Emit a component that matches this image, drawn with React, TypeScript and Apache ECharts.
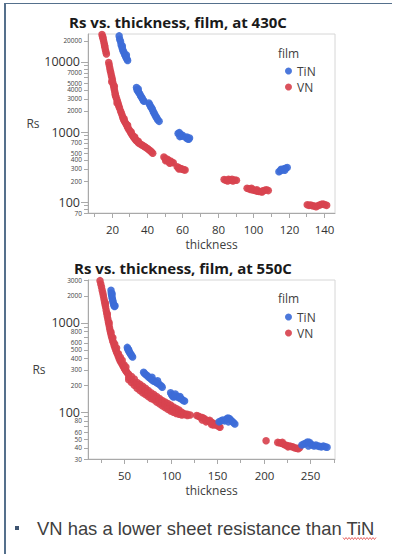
import React, { useEffect, useRef } from "react";
import * as echarts from "echarts";

// ---------- data (thickness, Rs) ----------
const tin430: number[][] = [
  [24.2, 23500], [24.5, 21000], [25.0, 19500], [25.3, 17500], [25.8, 16000], [26.2, 15000], [26.5, 14200],
  [27.0, 13500], [27.3, 12800], [27.8, 12000], [28.2, 11500], [28.6, 11000], [29.0, 10500], [28.3, 12500], [26.0, 16800],
  [34.0, 4300], [34.3, 4000], [34.8, 3850], [35.2, 3700], [35.8, 3500], [36.3, 3300], [36.8, 3150], [37.3, 3000],
  [37.8, 2850], [38.2, 2750], [35.0, 4100],
  [41.0, 2600], [41.5, 2450], [42.0, 2300], [42.6, 2200], [43.0, 2100], [43.5, 1950], [44.0, 1850], [44.5, 1750],
  [45.0, 1650], [45.5, 1580], [46.0, 1500], [46.8, 1420],
  [57.5, 950], [58.2, 980], [59.0, 920], [59.5, 870], [58.5, 860], [60.0, 900], [62.0, 830], [62.8, 800],
  [63.5, 790], [62.5, 850], [64.0, 820],
  [114.5, 272], [115.3, 280], [116.0, 288], [116.8, 292], [117.5, 300], [118.3, 305], [119.2, 312], [115.8, 295], [117.8, 286],
];

const vn430: number[][] = [
  [14.5, 24500], [14.8, 23000], [15.2, 21000], [15.5, 19500], [15.8, 18000], [16.1, 16500], [16.4, 15000],
  [16.7, 14000], [17.0, 13000], [15.0, 22500], [16.0, 17000],
  [18.3, 9800], [18.6, 9000], [18.9, 8200], [19.2, 7500], [19.5, 7000], [19.8, 6400], [20.1, 6000], [20.4, 5500],
  [20.7, 5000], [21.0, 4600], [21.3, 4200], [21.6, 3900], [21.9, 3600], [22.2, 3300], [22.5, 3100], [22.9, 2900],
  [23.3, 2700], [23.7, 2500], [24.0, 2350], [24.4, 2200], [20.0, 5200], [21.5, 4500], [22.0, 3400], [23.0, 2600],
  [25.0, 2000], [25.5, 1850], [26.0, 1700], [26.3, 1600], [26.8, 1500], [27.2, 1420], [27.8, 1350], [28.3, 1280],
  [28.8, 1200], [29.3, 1130], [29.8, 1080], [30.3, 1030], [30.8, 980], [31.3, 930], [31.8, 890], [32.3, 850],
  [32.8, 820], [33.3, 790], [33.8, 760], [34.5, 730], [35.2, 700], [36.0, 680], [36.8, 660], [37.6, 640],
  [38.5, 620], [39.3, 600], [40.2, 580], [41.0, 560], [41.8, 540], [42.5, 520], [43.2, 500],
  [27.0, 1550], [29.0, 1250], [31.0, 1000], [33.0, 850], [35.0, 740],
  [49.5, 440], [50.2, 420], [51.0, 400], [51.5, 410], [52.0, 390], [52.5, 375], [53.2, 385], [54.0, 370],
  [54.8, 365], [50.5, 390], [52.8, 360],
  [57.0, 320], [57.8, 310], [58.5, 305], [59.3, 300], [60.0, 295], [60.8, 290], [61.5, 288], [58.0, 298],
  [83.5, 210], [84.5, 205], [85.5, 200], [86.5, 208], [87.5, 205], [88.5, 200], [89.5, 207], [90.5, 205], [86.0, 212], [88.0, 212],
  [96.5, 158], [97.5, 155], [98.5, 152], [99.5, 150], [100.5, 148], [101.5, 145], [102.5, 143], [103.5, 142],
  [104.5, 142], [105.5, 145], [106.5, 148], [107.5, 150], [108.5, 146], [99.0, 158], [102.0, 150], [105.0, 140],
  [130.5, 92], [131.5, 90], [132.5, 91], [133.5, 89], [134.5, 88], [135.5, 86], [136.5, 89], [137.5, 91],
  [138.5, 93], [139.5, 94], [140.5, 92], [141.5, 90],
];

const tin550: number[][] = [
  [36.0, 2300], [36.3, 2150], [36.6, 2050], [37.0, 1950], [37.4, 1850], [37.8, 1780], [38.2, 1700], [38.7, 1620],
  [39.2, 1560], [39.8, 1520], [40.3, 1550], [37.2, 2100],
  [53.5, 530], [54.0, 510], [54.5, 495], [55.2, 480], [56.0, 465], [56.8, 450], [57.5, 440], [58.3, 425], [59.2, 415], [55.0, 500],
  [71.0, 280], [72.0, 270], [73.5, 262], [75.0, 255], [76.5, 245], [78.0, 240], [79.5, 232], [81.0, 225],
  [82.5, 222], [84.0, 218], [85.5, 212], [87.0, 208], [88.5, 202], [90.0, 196], [91.0, 190], [80.0, 245], [86.0, 225],
  [100.0, 165], [101.0, 158], [102.0, 152], [103.0, 148], [104.5, 150], [106.0, 152], [107.5, 148], [109.0, 145],
  [110.5, 142], [112.0, 140], [113.5, 135], [115.0, 133], [105.0, 160], [110.0, 150],
  [152.0, 78], [154.0, 80], [156.0, 82], [158.0, 80], [160.0, 84], [161.5, 86], [163.0, 85], [164.5, 82],
  [166.0, 79], [167.5, 76], [169.0, 74], [162.0, 78],
  [241.0, 43], [243.0, 44], [245.0, 45], [247.0, 46.5], [249.0, 46], [250.5, 44], [252.0, 43], [254.0, 42],
  [256.0, 43], [258.0, 42], [260.0, 41.5], [262.0, 41], [264.0, 42], [266.0, 41], [268.0, 40.5], [248.0, 42],
];

const vn550: number[][] = [
  [24.2, 2950], [25.0, 2700], [25.8, 2500], [26.5, 2300], [27.2, 2150], [27.8, 2000], [28.4, 1850], [29.0, 1720],
  [29.6, 1600], [30.2, 1500], [30.8, 1380], [31.4, 1280], [32.0, 1180], [32.6, 1100], [33.2, 1020], [33.8, 950],
  [34.4, 880], [35.0, 820], [35.7, 760], [36.4, 710], [37.1, 670], [37.8, 630], [38.5, 600], [39.3, 560],
  [40.1, 530], [41.0, 500], [41.9, 470], [42.8, 450], [43.7, 425], [44.6, 400], [45.5, 380], [46.5, 365],
  [47.5, 350], [48.5, 335], [49.5, 320], [50.5, 305], [51.5, 295], [52.5, 285], [53.5, 275],
  [30.0, 1650], [32.0, 1250], [34.0, 1000], [36.0, 780], [38.0, 680], [40.0, 580], [42.0, 520], [44.0, 450],
  [46.0, 410], [48.0, 380], [50.0, 340], [52.0, 320],
  [55, 265], [55, 245], [55, 230], [58, 250], [58, 230], [58, 215], [61, 235], [61, 215], [61, 200],
  [64, 215], [64, 200], [64, 185], [67, 205], [67, 190], [67, 175], [70, 195], [70, 180], [70, 165],
  [73, 185], [73, 170], [73, 158], [76, 175], [76, 162], [76, 150], [79, 165], [79, 152], [79, 142],
  [82, 158], [82, 148], [82, 138], [85, 150], [85, 140], [85, 130], [88, 142], [88, 133], [88, 124],
  [91, 135], [91, 127], [91, 118], [94, 130], [94, 122], [94, 113], [97, 125], [97, 116], [97, 108],
  [100, 120], [100, 110], [100, 103], [103, 114], [103, 106], [103, 100], [106, 110], [106, 103], [106, 97],
  [109, 106], [109, 100], [109, 95], [112, 100], [112, 96], [112, 93], [115, 96], [115, 94], [118, 95], [118, 92], [121, 93],
  [128, 92], [130, 90], [132, 88], [134, 87], [136, 85], [138, 82], [140, 80], [142, 78], [144, 77], [146, 75],
  [148, 73], [150, 71], [152, 69], [153, 68], [134, 82], [138, 78], [142, 81], [146, 72], [150, 74], [144, 73],
  [202.5, 48],
  [215, 46], [217, 45.5], [219, 45], [221, 44], [223, 43], [225, 42.5], [227, 42], [229, 41.5], [231, 41],
  [233, 40], [235, 39.5], [237, 39], [238.5, 40], [220, 46], [226, 41],
];

// ---------- axes ----------
const titles = ["Rs vs. thickness, film, at 430C", "Rs vs. thickness, film, at 550C"];
const xRange = [[6.6, 146.2], [11.3, 276.5]];
const yRange = [[70, 25000], [30, 3000]];
const xLabels = [[20, 40, 60, 80, 100, 120, 140], [50, 100, 150, 200, 250]];
const xMinor = [[10, 30, 50, 70, 90, 110, 130], [25, 75, 125, 175, 225, 275]];
const yLabels = [
  [20000, 10000, 7000, 5000, 4000, 3000, 2000, 1000, 700, 500, 400, 300, 200, 100, 70],
  [3000, 2000, 1000, 800, 600, 500, 400, 300, 200, 100, 80, 60, 50, 40, 30],
];
const yMajor = [100, 1000, 10000];
const legendNames = ["TiN", "VN"];
const colors = { TiN: "#3d6dd8", VN: "#d8434f" };

const FONT = "'Open Sans', 'Noto Sans', sans-serif";
const GRID_LEFT = 88;
const GRID_W = 247;
const GRID_TOP = [34, 280];
const GRID_H = 179;

function minorTicks(min: number, max: number): number[] {
  const out: number[] = [];
  for (let e = -1; e <= 6; e++) {
    for (let m = 1; m <= 9; m++) {
      const v = m * Math.pow(10, e);
      if (v >= min - 1e-9 && v <= max + 1e-9) out.push(v);
    }
  }
  return out;
}

export default function App() {
  const ref = useRef<HTMLDivElement>(null);
  useEffect(() => {
    if (!ref.current) return;
    const chart = echarts.init(ref.current, null, { renderer: "svg" });
    const axisCol = "#a9a9a9";
    const option: any = {
      animation: false,
      backgroundColor: "#ffffff",
      grid: [0, 1].map((i) => ({
        left: GRID_LEFT, top: GRID_TOP[i], width: GRID_W, height: GRID_H,
        show: true, borderColor: "#d6d6d6", borderWidth: 1, backgroundColor: "#ffffff",
      })),
      xAxis: [0, 1].map((i) => ({
        type: "value", gridIndex: i, min: xRange[i][0], max: xRange[i][1],
        axisLine: { show: true, lineStyle: { color: axisCol } },
        axisTick: { show: false }, axisLabel: { show: false }, splitLine: { show: false },
      })),
      yAxis: [0, 1].map((i) => ({
        type: "log", logBase: 10, gridIndex: i, min: yRange[i][0], max: yRange[i][1],
        axisLine: { show: true, lineStyle: { color: axisCol } },
        axisTick: { show: false }, axisLabel: { show: false }, splitLine: { show: false },
      })),
      legend: [0, 1].map((i) => ({
        data: legendNames, orient: "vertical", left: 285, top: i === 0 ? 64 : 310,
        itemWidth: 7, itemHeight: 7, itemGap: 2, icon: "circle", padding: 0, selectedMode: false,
        textStyle: { fontSize: 12, color: "#404040", fontFamily: FONT, lineHeight: 14 },
      })),
      series: [
        { name: "VN", type: "scatter", xAxisIndex: 0, yAxisIndex: 0, data: vn430 },
        { name: "TiN", type: "scatter", xAxisIndex: 0, yAxisIndex: 0, data: tin430 },
        { name: "VN", type: "scatter", xAxisIndex: 1, yAxisIndex: 1, data: vn550 },
        { name: "TiN", type: "scatter", xAxisIndex: 1, yAxisIndex: 1, data: tin550 },
      ].map((s: any) => ({
        ...s, symbol: "circle", symbolSize: 7.5,
        itemStyle: { color: (colors as any)[s.name], opacity: 0.92 },
      })),
    };
    chart.setOption(option);

    const g: any[] = [];
    const line = (x1: number, y1: number, x2: number, y2: number, c = axisCol) =>
      g.push({ type: "line", silent: true, shape: { x1, y1, x2, y2 }, style: { stroke: c, lineWidth: 1 } });
    const text = (x: number, y: number, t: string, st: any) =>
      g.push({ type: "text", x, y, silent: true, style: { text: t, fontFamily: FONT, fill: "#404040", align: "center", verticalAlign: "middle", ...st } });

    [0, 1].forEach((i) => {
      const bottom = GRID_TOP[i] + GRID_H;
      // y ticks
      minorTicks(yRange[i][0], yRange[i][1]).forEach((v) => {
        const y = Math.round(chart.convertToPixel({ yAxisIndex: i }, v) as number) + 0.5;
        const major = yMajor.includes(v);
        line(GRID_LEFT - (major ? 7 : 4), y, GRID_LEFT, y);
      });
      yLabels[i].forEach((v) => {
        const y = chart.convertToPixel({ yAxisIndex: i }, v) as number;
        const major = yMajor.includes(v);
        text(GRID_LEFT - (major ? 8 : 6), y, String(v), {
          align: "right", fontSize: major ? 12.5 : 6.5, fill: major ? "#333333" : "#444444",
        });
      });
      // x ticks
      xLabels[i].forEach((v) => {
        const x = Math.round(chart.convertToPixel({ xAxisIndex: i }, v) as number) + 0.5;
        line(x, bottom, x, bottom + 5);
        text(x, bottom + 16, String(v), { fontSize: 11.5, fill: "#333333" });
      });
      xMinor[i].forEach((v) => {
        const x = Math.round(chart.convertToPixel({ xAxisIndex: i }, v) as number) + 0.5;
        line(x, bottom, x, bottom + 4);
      });
      text(GRID_LEFT + GRID_W / 2, bottom + 31, "thickness", { fontSize: 12 });
      text(i === 0 ? 33 : 39, i === 0 ? 123 : 369, "Rs", { fontSize: 12 });
      text(i === 0 ? 178 : 183, i === 0 ? 21.5 : 268, titles[i], { fontSize: 15, fontWeight: "bold", fill: "#1a1a1a" });
      text(278, i === 0 ? 53 : 298, "film", { align: "left", fontSize: 12 });
    });

    // page frame
    line(4, 3.5, 392, 3.5, "#55708c");
    g.push({ type: "rect", silent: true, shape: { x: 4, y: 3, width: 2, height: 551 }, style: { fill: "#55708c" } });
    // bullet + note
    g.push({ type: "rect", silent: true, shape: { x: 15, y: 526, width: 4, height: 4 }, style: { fill: "#3e5470" } });
    text(37, 528.5, "VN has a lower sheet resistance than TiN", {
      align: "left", fontSize: 18.4, fontFamily: "'Liberation Sans', Arial, sans-serif", fill: "#404040",
    });
    const wave: number[][] = [];
    for (let x = 343, k = 0; x <= 376; x += 1.5, k++) wave.push([x, k % 2 === 0 ? 537.5 : 539.5]);
    g.push({ type: "polyline", silent: true, shape: { points: wave }, style: { stroke: "#e04040", lineWidth: 0.8, fill: null } });

    chart.setOption({ graphic: g });
    return () => chart.dispose();
  }, []);
  return <div ref={ref} style={{ position: "absolute", left: 0, top: 0, width: 393, height: 554 }} />;
}
